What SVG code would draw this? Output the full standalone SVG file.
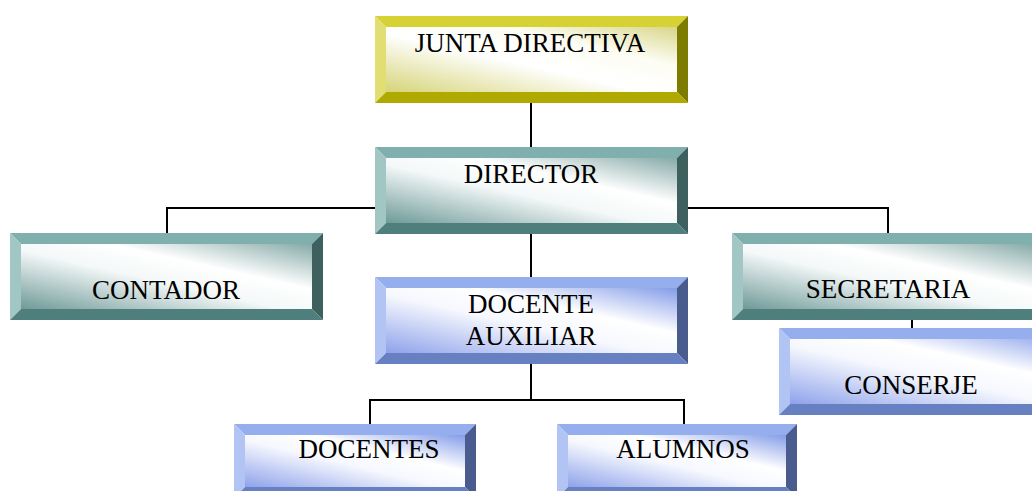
<svg xmlns="http://www.w3.org/2000/svg" width="1032" height="491" viewBox="0 0 1032 491">
<style>
text{font-family:"Liberation Serif","Times New Roman",serif;font-size:27px;fill:#000;text-anchor:middle}
.conn{stroke:#000;stroke-width:2;fill:none}
.yt{fill:#d6d234}.yl{fill:#e2de74}.yr{fill:#7e7c00}.yb{fill:#b0aa00}
.tt{fill:#80b0ad}.tl{fill:#a2c6c4}.tr{fill:#3e605e}.tb{fill:#4f7f7c}
.bt{fill:#94aeee}.bl{fill:#b2c4f4}.br{fill:#4a5c8e}.bb{fill:#6680c2}
</style>
<defs>
<linearGradient id="gy" x1="0" y1="1" x2="1" y2="0">
<stop offset="0" stop-color="#d6d478"/><stop offset="0.45" stop-color="#ffffff"/><stop offset="0.7" stop-color="#fdfdf4"/><stop offset="1" stop-color="#d8d688"/>
</linearGradient>
<linearGradient id="gt" x1="0" y1="1" x2="1" y2="0">
<stop offset="0" stop-color="#6e9a98"/><stop offset="0.45" stop-color="#f4f8f8"/><stop offset="0.65" stop-color="#ffffff"/><stop offset="1" stop-color="#86aaa8"/>
</linearGradient>
<linearGradient id="gb" x1="0" y1="1" x2="1" y2="0">
<stop offset="0" stop-color="#8ea2ea"/><stop offset="0.45" stop-color="#f6f8fe"/><stop offset="0.65" stop-color="#ffffff"/><stop offset="1" stop-color="#849ce8"/>
</linearGradient>
</defs>

<g id="connectors">
<line class="conn" x1="531" y1="103" x2="531" y2="147"/>
<polyline class="conn" points="167,233 167,208 888,208 888,233"/>
<line class="conn" x1="531" y1="233" x2="531" y2="277"/>
<line class="conn" x1="912" y1="319" x2="912" y2="328"/>
<line class="conn" x1="531" y1="364" x2="531" y2="400"/>
<polyline class="conn" points="370,424 370,400 684,400 684,424"/>
</g>

<g id="junta" transform="translate(375,16)">
<rect x="11" y="11" width="291" height="65" fill="url(#gy)"/>
<polygon class="yt" points="0,0 313,0 302,11 11,11"/>
<polygon class="yl" points="0,0 11,11 11,76 0,87"/>
<polygon class="yr" points="313,0 313,87 302,76 302,11"/>
<polygon class="yb" points="0,87 313,87 302,76 11,76"/>
<text x="155" y="36">JUNTA DIRECTIVA</text>
</g>

<g id="director" transform="translate(375,147)">
<rect x="11" y="11" width="291" height="65" fill="url(#gt)"/>
<polygon class="tt" points="0,0 313,0 302,11 11,11"/>
<polygon class="tl" points="0,0 11,11 11,76 0,87"/>
<polygon class="tr" points="313,0 313,87 302,76 302,11"/>
<polygon class="tb" points="0,87 313,87 302,76 11,76"/>
<text x="156" y="36">DIRECTOR</text>
</g>

<g id="contador" transform="translate(10,233)">
<rect x="11" y="11" width="291" height="65" fill="url(#gt)"/>
<polygon class="tt" points="0,0 313,0 302,11 11,11"/>
<polygon class="tl" points="0,0 11,11 11,76 0,87"/>
<polygon class="tr" points="313,0 313,87 302,76 302,11"/>
<polygon class="tb" points="0,87 313,87 302,76 11,76"/>
<text x="156" y="66">CONTADOR</text>
</g>

<g id="secretaria" transform="translate(732,233)">
<rect x="11" y="11" width="291" height="65" fill="url(#gt)"/>
<polygon class="tt" points="0,0 313,0 302,11 11,11"/>
<polygon class="tl" points="0,0 11,11 11,76 0,87"/>
<polygon class="tr" points="313,0 313,87 302,76 302,11"/>
<polygon class="tb" points="0,87 313,87 302,76 11,76"/>
<text x="156" y="65">SECRETARIA</text>
</g>

<g id="docente-auxiliar" transform="translate(375,277)">
<rect x="11" y="11" width="291" height="65" fill="url(#gb)"/>
<polygon class="bt" points="0,0 313,0 302,11 11,11"/>
<polygon class="bl" points="0,0 11,11 11,76 0,87"/>
<polygon class="br" points="313,0 313,87 302,76 302,11"/>
<polygon class="bb" points="0,87 313,87 302,76 11,76"/>
<text x="156" y="36">DOCENTE</text>
<text x="156" y="68">AUXILIAR</text>
</g>

<g id="conserje" transform="translate(779,328)">
<rect x="11" y="11" width="291" height="65" fill="url(#gb)"/>
<polygon class="bt" points="0,0 313,0 302,11 11,11"/>
<polygon class="bl" points="0,0 11,11 11,76 0,87"/>
<polygon class="br" points="313,0 313,87 302,76 302,11"/>
<polygon class="bb" points="0,87 313,87 302,76 11,76"/>
<text x="132" y="66">CONSERJE</text>
</g>

<g id="docentes" transform="translate(234,424)">
<rect x="11" y="11" width="220" height="52" fill="url(#gb)"/>
<polygon class="bt" points="0,0 242,0 231,11 11,11"/>
<polygon class="bl" points="0,0 11,11 11,63 0,74"/>
<polygon class="br" points="242,0 242,74 231,63 231,11"/>
<polygon class="bb" points="0,74 242,74 231,63 11,63"/>
<text x="135" y="34">DOCENTES</text>
</g>

<g id="alumnos" transform="translate(557,424)">
<rect x="11" y="11" width="218" height="52" fill="url(#gb)"/>
<polygon class="bt" points="0,0 240,0 229,11 11,11"/>
<polygon class="bl" points="0,0 11,11 11,63 0,74"/>
<polygon class="br" points="240,0 240,74 229,63 229,11"/>
<polygon class="bb" points="0,74 240,74 229,63 11,63"/>
<text x="126" y="34">ALUMNOS</text>
</g>
</svg>
